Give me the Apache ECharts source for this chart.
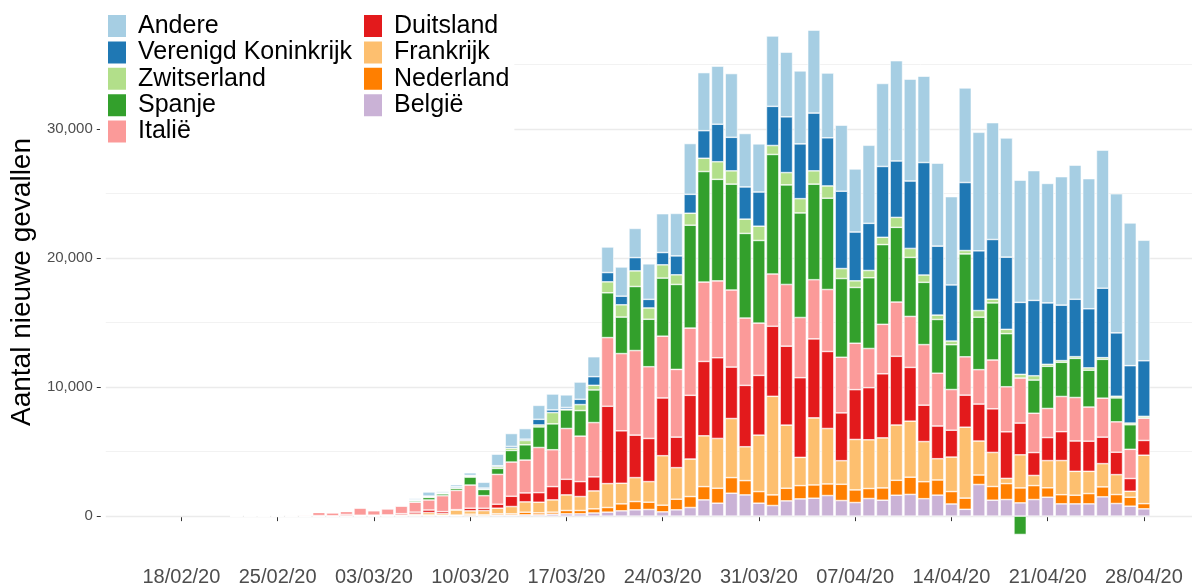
<!DOCTYPE html>
<html>
<head>
<meta charset="utf-8">
<title>Nieuwe gevallen</title>
<script src="https://cdn.jsdelivr.net/npm/echarts@6/dist/echarts.min.js"></script>
<style>html,body{margin:0;padding:0;background:#fff;}</style>
</head>
<body>
<div id="main" style="width:1194px;height:587px;"></div>
<script type="text/javascript">
// dagelijkse nieuwe gevallen, van 22/02/20 t/m 28/04/20
var firstDay = Date.UTC(2020, 1, 22);
var axisStart = Date.UTC(2020, 1, 13);
var axisDays = 79;

var tickLabels = ['18/02/20', '25/02/20', '03/03/20', '10/03/20', '17/03/20', '24/03/20',
                  '31/03/20', '07/04/20', '14/04/20', '21/04/20', '28/04/20'];

var belgie = [0,0,0,0,0,0,0,0,0,0,
  0,5,10,20,30,20,30,50,20,77,
  77,100,100,154,180,180,245,309,412,489,
  515,334,489,669,1261,1004,1776,1647,1004,823,
  1184,1338,1390,1596,1210,1055,1364,1235,1621,1684,
  1351,1629,942,530,2454,1236,1287,1029,1287,1467,
  952,952,952,1496,978,772,566];
var nederland = [0,0,0,0,0,0,1,0,6,8,
  5,10,20,40,60,50,50,100,77,100,
  100,206,154,154,257,257,320,360,540,643,
  566,515,823,849,1029,1158,1210,1106,900,823,
  978,1029,1029,900,1261,978,777,952,1158,1335,
  1316,1174,964,867,734,1061,1235,1158,1081,729,
  708,669,798,772,695,695,400];
var frankrijk = [0,0,0,0,0,10,20,15,40,30,
  40,50,60,100,185,130,400,257,334,437,
  566,798,823,952,1210,1081,1390,1853,1596,1853,
  1596,3834,2445,2908,3937,3860,4580,2625,4375,7643,
  4890,2187,5198,4297,1827,3911,3777,3881,4286,4342,
  3114,1647,2673,5497,2633,2641,405,2569,785,2110,
  2650,1853,1724,1801,1544,461,3757];
var duitsland = [0,0,0,0,0,10,20,10,80,30,
  30,30,100,150,200,150,20,206,180,309,
  798,695,746,1029,1210,1158,1090,5996,4066,3294,
  3345,4478,2367,4941,5764,6253,3989,4760,4632,5430,
  6125,6176,6125,5970,3706,3860,4040,4966,5327,4169,
  2821,2537,2082,2486,2866,3380,3609,2458,1775,1785,
  2237,2352,2337,2055,1737,988,1144];
var italie = [17,62,70,75,95,80,250,238,240,561,
  342,466,587,769,778,1230,1492,1797,977,2313,
  2651,2547,3497,2857,3937,3526,4207,5322,5986,6557,
  5560,4789,5249,5210,6153,5959,5974,5217,4050,4053,
  4782,4668,4585,4805,4316,3599,3039,3836,4204,3951,
  4694,4092,3153,2972,2667,3786,3493,3491,3047,2256,
  2729,3370,2646,3021,2357,2264,1739];
var spanje = [0,0,0,0,0,10,10,10,20,30,
  30,40,50,100,200,150,154,618,480,463,
  900,1184,1596,2007,1440,1982,2530,3474,2831,4966,
  3680,4503,6588,7977,8569,7874,8209,6562,6408,9264,
  7720,8106,7411,7077,6099,4323,5481,6180,5790,4576,
  4830,4167,3477,7977,4066,4426,4117,-1420,2573,3268,
  2650,3036,2856,3011,1853,1904,0];
var zwitserland = [0,0,0,0,0,1,1,3,8,10,
  6,10,20,40,50,30,60,77,30,129,
  180,334,154,875,60,463,360,849,952,1210,
  875,1029,746,926,1029,1364,1029,1106,1106,695,
  952,1106,1029,952,772,515,566,566,772,695,
  566,334,283,257,515,283,334,283,334,154,
  129,129,180,129,129,129,129];
var vk = [0,0,0,0,0,2,3,2,10,12,
  8,10,30,50,50,40,77,50,77,77,
  129,100,437,206,129,412,670,720,669,1029,
  669,952,1467,1467,2136,2908,2600,2496,2651,3036,
  4323,4246,4478,3731,5996,3783,3654,5491,4375,5224,
  8719,5353,4349,5276,4632,4632,5599,5584,5841,4760,
  4301,4451,4583,5386,4913,4452,4310];
var andere = [0,0,0,15,20,30,40,30,30,40,
  25,20,50,100,320,110,154,206,450,900,
  1004,823,1081,1235,978,1338,1544,1982,2264,2264,
  2753,3011,3294,3937,4503,4503,4941,4143,3731,5456,
  5018,5662,6433,5018,5121,4890,6048,6433,7771,7900,
  6690,6433,6845,7334,9187,9058,9238,9470,10062,9264,
  9959,10397,10087,10705,10782,11064,9341];

// van onder naar boven gestapeld
var landen = ['België', 'Nederland', 'Frankrijk', 'Duitsland', 'Italië',
              'Spanje', 'Zwitserland', 'Verenigd Koninkrijk', 'Andere'];
var reeksen = [belgie, nederland, frankrijk, duitsland, italie, spanje, zwitserland, vk, andere];
var kleuren = ['#CAB2D6', '#FF7F00', '#FDBF6F', '#E31A1C', '#FB9A99',
               '#33A02C', '#B2DF8A', '#1F78B4', '#A6CEE3'];

function twee(n) { return (n < 10 ? '0' : '') + n; }

var categories = [];
for (var i = 0; i < axisDays; i++) {
    var d = new Date(axisStart + i * 86400000);
    categories.push(twee(d.getUTCDate()) + '/' + twee(d.getUTCMonth() + 1) + '/20');
}
var offset = Math.round((firstDay - axisStart) / 86400000);

function opAs(arr) {
    var out = [];
    for (var i = 0; i < axisDays; i++) {
        var k = i - offset;
        out.push(k >= 0 && k < arr.length ? arr[k] : null);
    }
    return out;
}

function isTick(index, value) {
    return tickLabels.indexOf(value) >= 0;
}

var fontFam = 'Liberation Sans, Arial, sans-serif';

var series = [];
for (var s = 0; s < landen.length; s++) {
    series.push({
        name: landen[s],
        type: 'bar',
        stack: 'totaal',
        barWidth: '90%',
        data: opAs(reeksen[s]),
        itemStyle: { color: kleuren[s], borderColor: '#ffffff', borderWidth: 0.6 },
        z: 2
    });
}

// rasterlijnen (hoofd en tussen)
var major = { color: '#EBEBEB', width: 1.4, type: 'solid' };
var minor = { color: '#F2F2F2', width: 1, type: 'solid' };
series.push({
    name: 'raster',
    type: 'line',
    data: [],
    silent: true,
    z: 0,
    markLine: {
        silent: true,
        z: 1,
        symbol: 'none',
        label: { show: false },
        animation: false,
        data: [
            { yAxis: 0, lineStyle: major },
            { yAxis: 10000, lineStyle: major },
            { yAxis: 20000, lineStyle: major },
            { yAxis: 30000, lineStyle: major },
            { yAxis: 5000, lineStyle: minor },
            { yAxis: 15000, lineStyle: minor },
            { yAxis: 25000, lineStyle: minor },
            { yAxis: 35000, lineStyle: minor }
        ]
    }
});

var legendText = { fontSize: 25, color: '#000', fontFamily: fontFam, lineHeight: 24, padding: [0, 0, 0, 6] };

var myChart = echarts.init(document.getElementById('main'));
myChart.setOption({
    animation: false,
    color: kleuren,
    textStyle: { fontFamily: fontFam },
    grid: { left: 104, right: 2, top: 4, bottom: 25, containLabel: false },
    legend: [
        {
            orient: 'vertical', left: 100, top: 7,
            padding: [6, 16, 6, 6],
            backgroundColor: '#ffffff',
            itemWidth: 20, itemHeight: 24, itemGap: 0.4,
            icon: 'rect',
            data: ['Andere', 'Verenigd Koninkrijk', 'Zwitserland', 'Spanje', 'Italië'],
            textStyle: legendText,
            selectedMode: false
        },
        {
            orient: 'vertical', left: 356, top: 7,
            padding: [6, 5, 33, 6],
            backgroundColor: '#ffffff',
            itemWidth: 20, itemHeight: 24, itemGap: 0.4,
            icon: 'rect',
            data: ['Duitsland', 'Frankrijk', 'Nederland', 'België'],
            textStyle: legendText,
            selectedMode: false
        }
    ],
    xAxis: {
        type: 'category',
        data: categories,
        boundaryGap: true,
        axisLine: { show: false },
        axisTick: { show: true, interval: isTick, alignWithLabel: true, length: 5,
                    lineStyle: { color: '#333333', width: 1 } },
        axisLabel: { interval: isTick, fontSize: 20, color: '#4D4D4D', margin: 7, fontFamily: fontFam },
        splitLine: { show: false }
    },
    yAxis: {
        type: 'value',
        min: -3400,
        max: 39700,
        offset: 5,
        name: 'Aantal nieuwe gevallen',
        nameLocation: 'middle',
        nameRotate: 90,
        nameGap: 64,
        nameTextStyle: { fontSize: 28, color: '#000', fontFamily: fontFam },
        axisLine: { show: false },
        axisTick: { show: true, length: 4, lineStyle: { color: '#333333', width: 1 } },
        axisLabel: {
            fontSize: 15, color: '#4D4D4D', margin: 8, fontFamily: fontFam,
            showMinLabel: false, showMaxLabel: false,
            formatter: function (v) { return String(v).replace(/\B(?=(\d{3})+(?!\d))/g, ','); }
        },
        splitLine: { show: false }
    },
    series: series
});
</script>
</body>
</html>
